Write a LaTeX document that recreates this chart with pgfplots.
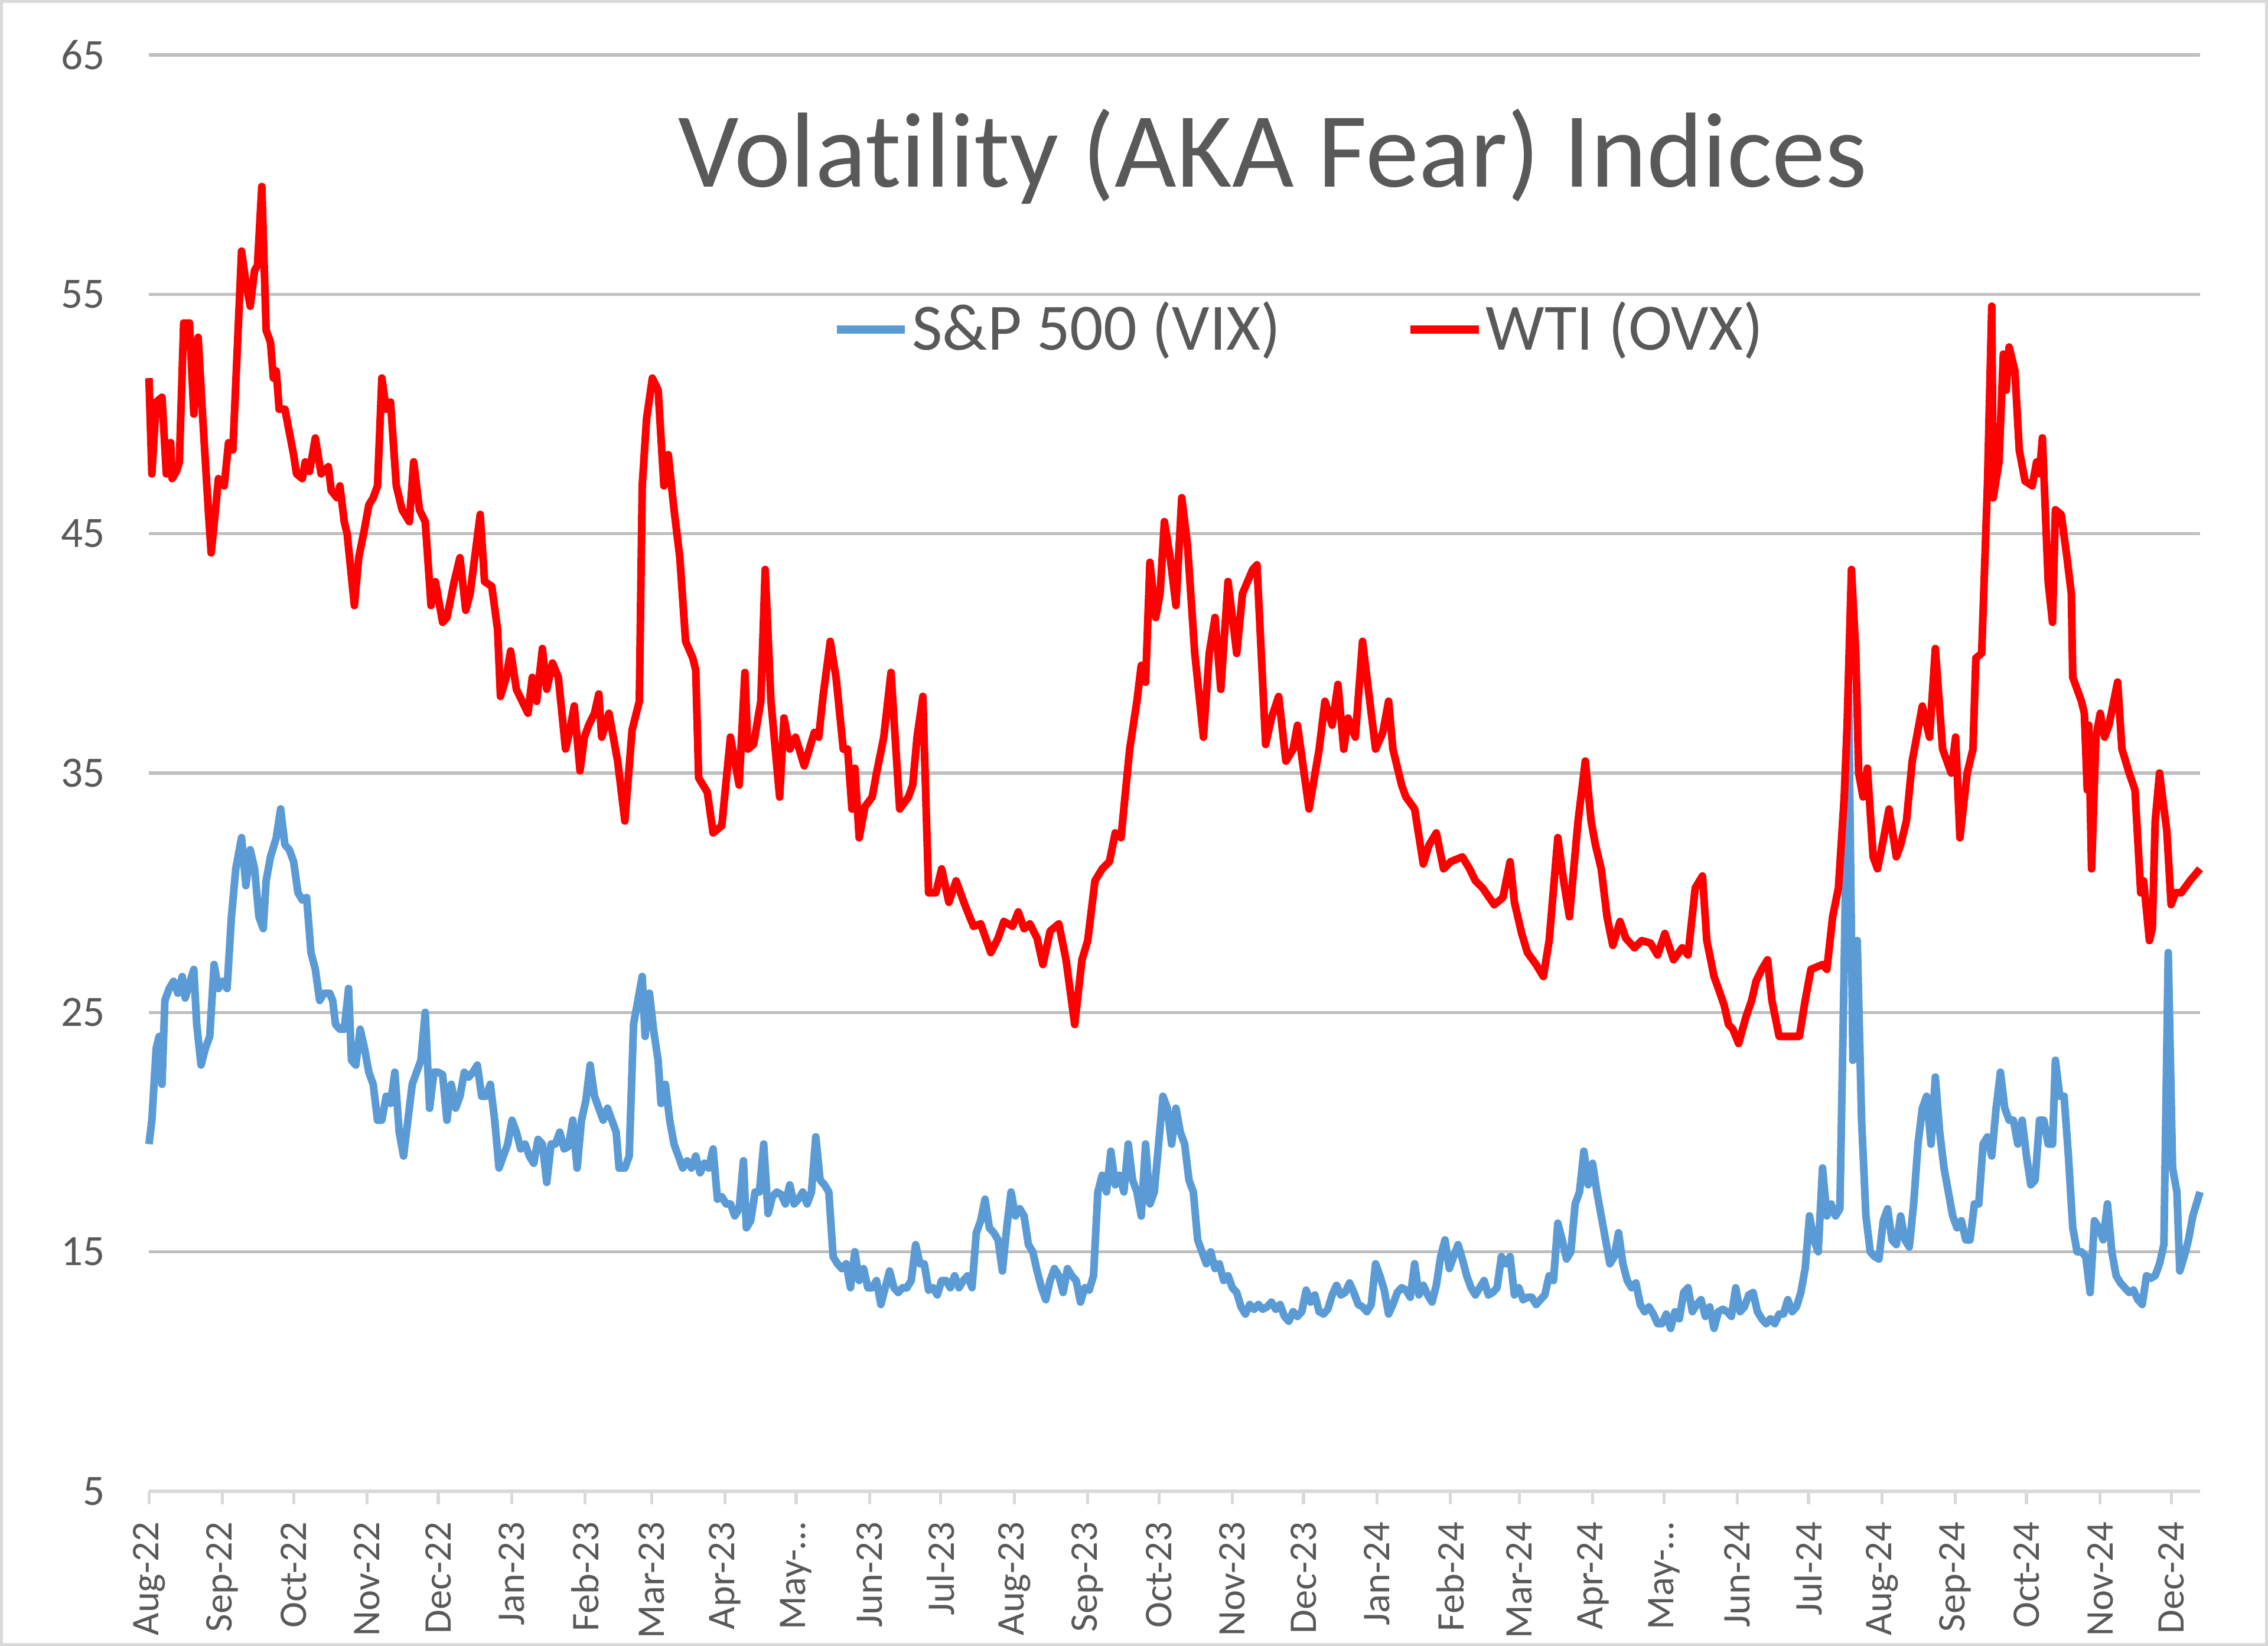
\documentclass[border=0pt]{standalone}
\usepackage{pgfplots}
\pgfplotsset{compat=1.18}
\usepackage{fontspec}
\setmainfont[Ligatures=NoCommon]{Carlito}
\definecolor{txt}{HTML}{595959}
\definecolor{grid}{HTML}{D9D9D9}
\definecolor{vix}{HTML}{5B9BD5}
\definecolor{ovx}{HTML}{FF0000}
\begin{document}
\begin{tikzpicture}
\useasboundingbox (-1.03,-1.07) rectangle (14.65,10.31);
\draw[grid, line width=0.6pt] (-1.02,-1.06) rectangle (14.64,10.30);
\begin{axis}[
  scale only axis, width=14.18cm, height=9.93cm,
  xmin=103, xmax=1521, ymin=5, ymax=65,
  axis x line*=bottom, axis y line*=left,
  x axis line style={grid, line width=0.65pt, -},
  y axis line style={draw=none},
  ytick={5,15,25,35,45,55,65},
  xmajorgrids=false, ymajorgrids=true,
  major grid style={grid, line width=0.6pt},
  y tick label style={font=\fontsize{8.5}{10}\selectfont, text=txt, anchor=east, xshift=-0.09cm},
  ytick style={draw=none},
  xtick={103,153.8,203,253.8,303,353.8,404.6,450.5,501.3,550.4,601.3,650.4,701.2,752,801.2,852,901.2,952,1002.8,1050.3,1101.2,1150.3,1201.1,1250.3,1301.1,1351.9,1401,1451.9,1501.1},
  xticklabels={Aug-22,Sep-22,Oct-22,Nov-22,Dec-22,Jan-23,Feb-23,Mar-23,Apr-23,May-…,Jun-23,Jul-23,Aug-23,Sep-23,Oct-23,Nov-23,Dec-23,Jan-24,Feb-24,Mar-24,Apr-24,May-…,Jun-24,Jul-24,Aug-24,Sep-24,Oct-24,Nov-24,Dec-24},
  x tick label style={font=\fontsize{7.7}{9}\selectfont, text=txt, rotate=90, anchor=east},
  xtick style={grid, line width=0.6pt},
  tick align=outside, major tick length=0.09cm,
  /pgf/number format/assume math mode=true,
  clip=false,
  legend style={at={(0.561,0.8087)}, anchor=center, draw=none, fill=none,
    font=\fontsize{13}{15}\selectfont, text=txt, legend columns=2,
    /tikz/every even column/.append style={column sep=0.85cm},
    nodes={inner xsep=0.6pt},
    inner sep=0pt},
  legend image code/.code={\draw[#1, line width=1.6pt] (0cm,0cm) -- (0.47cm,0cm);},
  every axis plot/.append style={line join=round},
]
\addplot[vix, line width=1.5pt] coordinates {
(103,19.5)(105,20.5)(108,23.5)(110,24)(112,22)(114,25.5)(117,26)(120,26.3)(123,25.8)(126,26.5)(128,25.6)(131,26.2)(134,26.8)(136,24.5)(139,22.8)(142,23.5)(145,24)(148,27)(151,26)(154,26.3)(157,26)(160,29)(163,31)(167,32.3)(170,30.3)(173,31.8)(176,31)(179,29)(182,28.5)(184,30.5)(187,31.5)(191,32.3)(194,33.5)(197,32)(200,31.8)(203,31.3)(206,30)(209,29.7)(212,29.8)(215,27.5)(218,26.8)(221,25.5)(224,25.8)(228,25.8)(230,25.5)(232,24.5)(235,24.3)(238,24.3)(241,26)(243,23)(246,22.8)(249,24.3)(252,23.5)(255,22.5)(258,22)(261,20.5)(264,20.5)(267,21.5)(270,21.2)(273,22.5)(276,20)(279,19)(282,20.5)(285,22)(288,22.5)(291,23)(294,25)(297,21)(300,22.5)(303,22.5)(306,22.4)(309,20.5)(312,22)(315,21)(318,21.5)(321,22.5)(324,22.3)(327,22.5)(330,22.8)(333,21.5)(336,21.5)(339,22)(342,20.5)(345,18.5)(348,19)(351,19.5)(354,20.5)(357,20)(360,19.3)(363,19.5)(366,19)(369,18.7)(372,19.7)(375,19.5)(378,17.9)(381,19.5)(384,19.5)(387,20)(390,19.3)(393,19.4)(396,20.5)(399,18.5)(402,20.5)(405,21.3)(408,22.8)(411,21.5)(414,21)(417,20.5)(420,21)(423,20.5)(426,20)(428,18.5)(432,18.5)(435,19)(438,24.5)(441,25.5)(444,26.5)(446,24)(449,25.8)(452,24.2)(455,23)(457,21.2)(460,22)(463,20.5)(466,19.5)(469,19)(472,18.5)(475,18.8)(478,18.5)(481,19)(484,18.3)(487,18.7)(490,18.5)(493,19.3)(496,17.2)(499,17.3)(502,17)(505,17)(508,16.5)(511,16.8)(514,18.8)(516,16)(519,16.3)(522,17.5)(525,17.5)(528,19.5)(531,16.6)(534,17.3)(537,17.5)(540,17.4)(543,17)(546,17.8)(549,17)(552,17.2)(555,17.5)(558,17)(561,17.5)(564,19.8)(567,18)(570,17.8)(573,17.5)(576,14.8)(579,14.5)(582,14.3)(585,14.5)(588,13.5)(591,15)(594,13.8)(597,14.3)(600,13.5)(603,13.5)(606,13.8)(609,12.8)(612,13.5)(615,14.2)(618,13.5)(621,13.3)(624,13.5)(627,13.5)(630,13.8)(633,15.3)(636,14.5)(639,14.5)(642,13.4)(645,13.5)(648,13.2)(651,13.8)(654,13.8)(657,13.5)(660,14)(663,13.5)(666,13.8)(669,14)(672,13.5)(675,15.8)(678,16.3)(681,17.2)(684,16)(687,15.8)(690,15.5)(693,14.2)(696,16)(699,17.5)(702,16.5)(705,16.8)(708,16.5)(711,15.3)(714,15)(717,14.2)(720,13.5)(723,13)(726,13.8)(729,14.3)(732,14)(735,13.3)(738,14.3)(741,14)(744,13.8)(747,12.9)(750,13.5)(753,13.4)(756,14)(759,17.5)(762,18.2)(765,17.5)(768,19.2)(771,17.8)(774,18.2)(777,17.5)(780,19.5)(783,18)(786,17.5)(789,16.5)(792,19.5)(795,17)(798,17.5)(801,19.5)(804,21.5)(807,21)(810,19.5)(813,21)(816,20)(819,19.5)(822,18)(825,17.5)(828,15.5)(831,15)(834,14.5)(837,15)(840,14.3)(843,14.5)(846,13.8)(849,14)(852,13.5)(855,13.3)(858,12.7)(861,12.4)(864,12.8)(867,12.6)(870,12.8)(873,12.6)(876,12.7)(879,12.9)(882,12.6)(885,12.8)(888,12.3)(891,12.1)(894,12.5)(897,12.3)(900,12.5)(903,13.4)(906,12.9)(909,13.2)(912,12.5)(915,12.4)(918,12.6)(921,13.2)(924,13.6)(927,13.2)(930,13.3)(933,13.7)(936,13.3)(939,12.8)(942,12.7)(945,12.5)(948,12.8)(951,14.5)(954,14)(957,13.4)(960,12.4)(963,12.8)(966,13.3)(969,13.5)(972,13.4)(975,13.1)(978,14.5)(981,13.2)(984,13.6)(987,13.2)(990,12.9)(993,13.6)(996,14.8)(999,15.5)(1002,14.3)(1005,14.8)(1008,15.3)(1011,14.7)(1014,14)(1017,13.5)(1020,13.2)(1023,13.5)(1026,13.8)(1029,13.2)(1032,13.3)(1035,13.5)(1038,14.8)(1041,14.5)(1044,14.8)(1047,13.2)(1050,13.5)(1053,13)(1056,13.1)(1059,13.1)(1062,12.8)(1065,13)(1068,13.2)(1071,14)(1074,13.8)(1077,16.2)(1080,15.5)(1083,14.7)(1086,15)(1089,17)(1092,17.5)(1095,19.2)(1098,17.8)(1101,18.7)(1104,17.5)(1107,16.5)(1110,15.5)(1113,14.5)(1116,14.8)(1119,15.8)(1122,14.5)(1125,13.8)(1128,13.5)(1131,13.7)(1134,12.8)(1137,12.5)(1140,12.7)(1143,12.4)(1146,12)(1149,12)(1152,12.4)(1155,11.8)(1158,12.5)(1161,12.2)(1164,13.3)(1167,13.5)(1170,12.5)(1173,12.8)(1176,13)(1179,12.3)(1182,12.7)(1185,11.8)(1188,12.5)(1191,12.6)(1194,12.5)(1197,12.3)(1200,13.5)(1203,12.5)(1206,12.7)(1209,13.2)(1212,13.3)(1215,12.5)(1218,12.2)(1221,12)(1224,12.2)(1227,12)(1230,12.4)(1233,12.4)(1236,13)(1239,12.5)(1242,12.7)(1245,13.3)(1248,14.3)(1251,16.5)(1254,15.5)(1257,15)(1260,18.5)(1263,16.5)(1266,17)(1269,16.5)(1272,16.8)(1275,27)(1278,38.5)(1281,23)(1284,28)(1287,20.5)(1290,16.5)(1293,15)(1296,14.8)(1299,14.7)(1302,16.3)(1305,16.8)(1308,15.5)(1311,15.3)(1314,16.5)(1317,15.5)(1320,15.2)(1323,17)(1326,19.5)(1329,21)(1332,21.5)(1335,19.5)(1338,22.3)(1341,20)(1344,18.5)(1347,17.5)(1350,16.5)(1353,16)(1356,16.3)(1359,15.5)(1362,15.5)(1365,17)(1368,17)(1371,19.5)(1374,19.8)(1377,19)(1380,21)(1383,22.5)(1386,21)(1389,20.5)(1392,20.5)(1395,19.5)(1398,20.5)(1401,19)(1404,17.8)(1407,18)(1410,20.5)(1413,20.5)(1416,19.5)(1419,19.5)(1421,23)(1424,21.5)(1427,21.5)(1430,19)(1433,16)(1436,15)(1439,15)(1442,14.8)(1445,13.3)(1448,16.3)(1451,16)(1454,15.5)(1457,17)(1460,15)(1463,14)(1466,13.7)(1469,13.5)(1472,13.3)(1475,13.4)(1478,13)(1481,12.8)(1484,14)(1487,13.9)(1490,14)(1493,14.5)(1496,15.3)(1499,27.5)(1502,18.5)(1505,17.5)(1507,14.2)(1510,14.8)(1513,15.5)(1516,16.5)(1521,17.5)
};
\addlegendentry{S\&P 500 (VIX)}
\addplot[ovx, line width=1.5pt] coordinates {
(103,51.5)(105,47.5)(108,50.5)(112,50.7)(115,47.5)(118,48.8)(119,47.3)(122,47.6)(124,48)(127,53.8)(131,53.8)(134,50)(137,53.2)(140,50)(144,46)(146,44.2)(149,46)(151,47.3)(155,47)(158,48.8)(161,48.5)(167,56.8)(170,55.5)(173,54.5)(176,56)(178,56.2)(181,59.5)(184,53.5)(187,53)(189,51.5)(191,51.8)(193,50.2)(197,50.2)(203,48.3)(205,47.5)(209,47.3)(211,48)(214,47.6)(218,49)(222,47.5)(227,47.8)(229,46.8)(233,46.5)(235,47)(238,45.5)(240,45)(245,42)(248,44)(252,45.2)(255,46.2)(258,46.5)(261,47)(264,51.5)(267,50.2)(270,50.5)(274,47)(278,46)(283,45.5)(286,48)(290,46)(294,45.5)(298,42)(301,43)(306,41.3)(309,41.5)(314,43)(318,44)(322,41.8)(325,42.5)(332,45.8)(335,43)(340,42.8)(344,41)(346,38.2)(350,39)(353,40.1)(357,38.5)(361,38)(365,37.5)(368,39)(371,38)(375,40.2)(378,38.5)(382,39.6)(386,39)(391,36)(394,36.8)(397,37.8)(401,35.1)(404,36.5)(407,37)(411,37.5)(414,38.3)(416,36.5)(421,37.5)(427,35.5)(432,33)(437,36.8)(442,38)(444,47)(447,49.8)(451,51.5)(455,51)(459,47)(462,48.3)(466,46)(470,44)(474,40.5)(479,39.8)(481,39.3)(483,34.8)(489,34.2)(493,32.5)(499,32.8)(505,36.5)(511,34.5)(515,39.2)(517,36)(521,36.2)(526,38)(529,43.5)(533,38)(536,36)(539,34)(542,37.3)(546,36)(550,36.5)(556,35.3)(563,36.7)(566,36.5)(569,38.2)(574,40.5)(578,39)(583,36)(586,36)(589,33.5)(591,35.2)(594,32.3)(598,33.6)(603,34)(606,35)(611,36.5)(616,39.2)(622,33.5)(628,34)(631,34.5)(634,36.5)(638,38.2)(642,30)(647,30)(651,31)(656,29.6)(661,30.5)(667,29.5)(673,28.6)(678,28.7)(685,27.5)(690,28.1)(694,28.8)(700,28.6)(704,29.2)(708,28.5)(712,28.7)(717,28.1)(721,27)(726,28.4)(732,28.7)(737,27.2)(743,24.5)(748,27.2)(752,28)(757,30.5)(762,31)(767,31.3)(771,32.5)(775,32.3)(781,36)(786,38)(789,39.5)(792,38.8)(795,43.8)(799,41.5)(802,42.5)(805,45.5)(809,44)(813,42)(817,46.5)(821,44.5)(826,40)(832,36.5)(836,40)(840,41.5)(844,38.5)(849,43)(855,40)(859,42.5)(866,43.5)(869,43.7)(875,36.2)(879,37.3)(884,38.2)(889,35.5)(894,36)(897,37)(905,33.5)(912,36)(916,38)(921,37)(925,38.7)(929,36)(932,37.3)(937,36.5)(942,40.5)(946,38.5)(951,36)(956,36.7)(960,38)(963,36)(969,34.5)(972,34)(978,33.5)(984,31.2)(988,32)(993,32.5)(998,31)(1003,31.3)(1011,31.5)(1016,31)(1020,30.5)(1025,30.2)(1033,29.5)(1039,29.8)(1044,31.3)(1047,29.6)(1052,28.3)(1056,27.5)(1062,27)(1067,26.5)(1071,28)(1077,32.3)(1081,30.5)(1085,29)(1091,33)(1096,35.5)(1100,33)(1103,32)(1107,31)(1111,29)(1115,27.8)(1120,28.8)(1124,28.1)(1130,27.7)(1135,28)(1141,27.9)(1146,27.4)(1151,28.3)(1157,27.2)(1163,27.7)(1167,27.4)(1172,30.2)(1177,30.7)(1180,28)(1185,26.5)(1188,26)(1192,25.3)(1195,24.5)(1198,24.3)(1202,23.7)(1207,24.8)(1211,25.5)(1214,26.3)(1218,26.8)(1222,27.2)(1225,25.5)(1230,24)(1236,24)(1244,24)(1248,25.5)(1252,26.8)(1260,27)(1263,26.8)(1267,29)(1271,30.2)(1275,34)(1277,37)(1280,43.5)(1283,40)(1285,35)(1288,34)(1291,35.2)(1295,31.5)(1298,31)(1302,32.2)(1306,33.5)(1311,31.5)(1314,32)(1318,33)(1322,35.5)(1329,37.8)(1334,36.5)(1338,40.2)(1343,36)(1349,35)(1352,36.5)(1355,32.3)(1360,35)(1364,36)(1366,39.8)(1370,40)(1374,47)(1377,54.5)(1378,46.5)(1382,48)(1385,52.5)(1387,51)(1389,52.8)(1393,51.8)(1396,48.5)(1400,47.2)(1405,47)(1408,48)(1410,47.5)(1412,49)(1416,43)(1419,41.3)(1421,46)(1425,45.8)(1429,44)(1432,42.5)(1433,39)(1439,38)(1441,37.5)(1443,34.3)(1444,37)(1446,31)(1449,36.5)(1452,37.5)(1455,36.5)(1458,37)(1464,38.8)(1467,36)(1472,35)(1476,34.3)(1480,30)(1482,30.5)(1486,28)(1488,28.5)(1490,33)(1493,35)(1495,34)(1498,32.6)(1501,29.5)(1504,30)(1508,30)(1514,30.5)(1521,31)
};
\addlegendentry{WTI (OVX)}
\node[text=txt, font=\fontsize{21}{25}\selectfont] at (rel axis cs:0.548,0.9295) {Volatility (AKA Fear) Indices};
\end{axis}
\end{tikzpicture}
\end{document}
